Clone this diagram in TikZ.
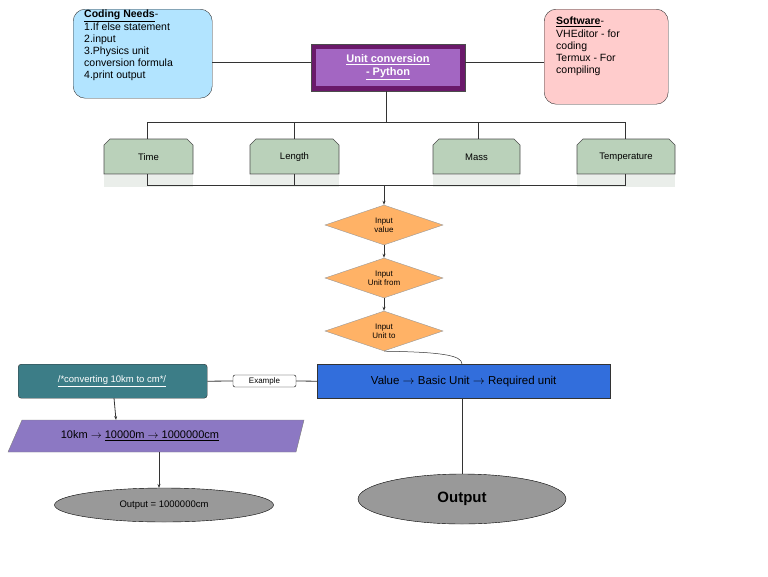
\documentclass[tikz,border=0pt]{standalone}
\usepackage{fontspec}
\setmainfont{Liberation Sans}
\usetikzlibrary{shapes.geometric,arrows.meta}
\begin{document}
\begin{tikzpicture}[x=1pt,y=-1pt,
  ln/.style={draw=black!80,line width=0.8pt},
  ar/.style={ln,-{Stealth[length=4pt,width=3pt]}},
  green/.style={draw=black!70,fill=green!25!gray!40!white,fill=green!15!gray!30,line width=0.6pt},
  dia/.style={diamond,draw=black!40,fill=orange!60!white,minimum width=118pt,minimum height=40pt,aspect=2.9,inner sep=0pt,align=center,font=\fontsize{8}{9}\selectfont},
  ell/.style={ellipse,draw=black,fill=black!40,inner sep=0pt}]
\useasboundingbox (0,0) rectangle (768,576);
% top boxes
\node[draw=black!80,fill=blue!35!cyan!30,rounded corners=12pt,minimum width=139pt,minimum height=89pt,anchor=north west,align=left,inner sep=3pt,font=\fontsize{10.5}{12.2}\selectfont] (cn) at (73,9) {};
\node[anchor=north west,align=left,font=\fontsize{10.5}{12.2}\selectfont,inner sep=0pt] at (84,10) {\textbf{\underline{Coding Needs}}-\\1.If else statement\\2.input\\3.Physics unit\\conversion formula\\4.print output};
\node[draw=black!80,fill=red!20,rounded corners=12pt,minimum width=124pt,minimum height=95pt,anchor=north west] (sw) at (544,9) {};
\node[anchor=north west,align=left,font=\fontsize{10.5}{12.2}\selectfont,inner sep=0pt] at (556,17) {\textbf{\underline{Software}}-\\VHEditor - for\\coding\\Termux - For\\compiling};
% main
\fill[violet!70!black!90] (311,44) rectangle (465,91);
\fill[violet!80!blue!60] (316,49) rectangle (460,86);
\draw[black!70] (311,44) rectangle (465,91);
\node[font=\fontsize{11}{13}\selectfont\bfseries,text=white,align=center] (uc) at (388,67.5) {\underline{Unit conversion}\\\underline{- Python}};
\coordinate (ucl) at (311,62); \coordinate (ucr) at (465,62); \coordinate (ucb) at (386,91);
\draw[ln] (212,62) -- (ucl); \draw[ln] (ucr) -- (544,62);
\draw[ln] (ucb) -- (386,122);
\draw[ln] (147,122) -- (625,122);
% green boxes
\foreach \n/\a/\b/\t in {ti/104/193/Time,le/250/339/Length,ma/433/520/Mass,te/577/675/Temperature}{
  \fill[green!10!gray!15] (\a,175) rectangle (\b,187);
  \draw[green,fill=green!20!gray!45] (\a,174) -- (\a,145) -- (\a+6,139) -- (\b-6,139) -- (\b,145) -- (\b,174) -- cycle;
  \node[font=\fontsize{9.5}{11}\selectfont] (\n) at ({(\a+\b)/2},157) {\t};
}
\foreach \x in {147,294,478,625}{\draw[ln] (\x,122) -- (\x,139);}
\foreach \x in {147,294,625}{\draw[ln] (\x,174) -- (\x,186);}
\draw[ln] (147,185) -- (625,185);
% diamonds
\node[dia] (d1) at (384,225) {Input\\value};
\node[dia] (d2) at (384,278) {Input\\Unit from};
\node[dia] (d3) at (384,331) {Input\\Unit to};
\draw[ar] (384,185) -- (d1.north);
\draw[ar] (d1.south) -- (d2.north);
\draw[ar] (d2.south) -- (d3.north);
% blue
\node[draw=black!80,fill=blue!55!cyan!70!black!90,fill={rgb,255:red,50;green,110;blue,220},minimum width=293pt,minimum height=34pt,anchor=north west,inner sep=0pt] (bl) at (317,364) {};
\node[font=\fontsize{11.5}{13}\selectfont] at (bl.center) {Value $\rightarrow$ Basic Unit $\rightarrow$ Required unit};
\draw[ln,line width=0.5pt] (d3.south) .. controls (440,352) and (462,355) .. (462,364);
% teal
\node[draw=black!80,fill={rgb,255:red,60;green,125;blue,135},rounded corners=3pt,minimum width=189pt,minimum height=34pt,anchor=north west,inner sep=0pt] (tl) at (18,364) {};
\node[text=white,font=\fontsize{9.5}{11}\selectfont] at (112,381) {\underline{/*converting 10km to cm*/}};
\node[draw=black,fill=white,rounded corners=2pt,minimum width=63pt,minimum height=12pt,inner sep=0pt,font=\fontsize{8}{9}\selectfont] (ex) at (264.5,381) {Example};
\draw[ln] (tl.east) -- (ex.west); \draw[ln] (ex.east) -- (bl.west);
% parallelogram
\draw[draw=black!50,fill={rgb,255:red,140;green,120;blue,195}] (22,420) -- (304,420) -- (296,452) -- (8,452) -- cycle;
\node[font=\fontsize{11}{13}\selectfont] (pg) at (140,436) {10km $\rightarrow$ \underline{10000m $\rightarrow$ 1000000cm}};
\draw[ar] (114,398) -- (116,420);
% ellipses
\node[ell,minimum width=219pt,minimum height=34pt,font=\fontsize{9.5}{11}\selectfont] (o1) at (164,505) {Output = 1000000cm};
\draw[ar] (159,452) -- (159,488);
\node[ell,minimum width=208pt,minimum height=50pt,font=\fontsize{15}{17}\selectfont\bfseries] (o2) at (462,499) {Output};
\draw[ln] (462,398) -- (o2.north);
\end{tikzpicture}
\end{document}
